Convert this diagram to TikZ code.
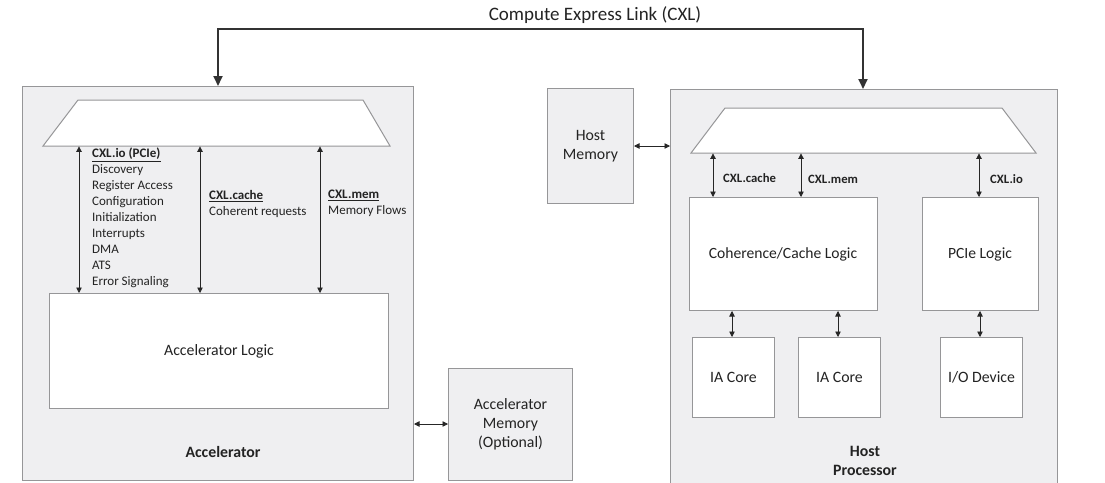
\documentclass[tikz,border=0pt]{standalone}
\usepackage{fontspec}
\setmainfont{Carlito}
\usetikzlibrary{arrows.meta,calc}

\definecolor{panel}{RGB}{239,239,241}
\definecolor{edge}{RGB}{150,150,152}
\definecolor{ink}{RGB}{35,35,35}

\tikzset{
  panelbox/.style={draw=edge, fill=panel, line width=1pt, inner sep=0pt},
  whitebox/.style={draw=edge, fill=white, line width=1pt, inner sep=0pt, text=ink,
                   font=\fontsize{15.8}{19}\selectfont, align=center},
  funnel/.style={draw=edge, fill=white, line width=1pt, line join=miter},
  frame/.style={draw=none, inner sep=0pt},
  dblarrow/.style={{Triangle[length=5.5pt,width=5.5pt]}-{Triangle[length=5.5pt,width=5.5pt]},
                   line width=0.8pt, draw=black!85},
  linkarrow/.style={{Triangle[length=10pt,width=9pt]}-{Triangle[length=10pt,width=9pt]},
                    line width=1.8pt, draw=black!80},
  small/.style={text=ink, font=\fontsize{13}{16}\selectfont, inner sep=0pt, align=left},
  smallbold/.style={text=ink, font=\fontsize{12.7}{16}\selectfont\bfseries, inner sep=0pt},
  caption/.style={text=ink, font=\fontsize{15.8}{19}\selectfont\bfseries, inner sep=0pt, align=center},
  boxlabel/.style={text=ink, font=\fontsize{15.6}{19}\selectfont, inner sep=0pt}
}

\begin{document}
\begin{tikzpicture}[x=1pt,y=-1pt]
\useasboundingbox (0,0) rectangle (1105,482);

% ---------- Accelerator side ----------
\node[panelbox, minimum width=391, minimum height=394, anchor=north west] (accel) at (22,86) {};
% protocol multiplexer (trapezoid) and its frame
\node[frame, minimum width=347, minimum height=46, anchor=north west] (trapA) at (43,100) {};
\draw[funnel] (78,100) -- (363,100) -- (390,146) -- (43,146) -- cycle;
\node[whitebox, minimum width=339, minimum height=115, anchor=north west] (alogic) at (49,293) {Accelerator Logic};
\node[caption] (acaption) at (223,452) {Accelerator};

\draw[dblarrow] (trapA.south -| 79,0) -- (alogic.north -| 79,0);
\draw[dblarrow] (trapA.south -| 200,0) -- (alogic.north -| 200,0);
\draw[dblarrow] (trapA.south -| 320,0) -- (alogic.north -| 320,0);

\node[small, anchor=north west] (iolist) at (92,148)
  {\textbf{\underline{CXL.io (PCIe)}}\\ Discovery\\ Register Access\\ Configuration\\ Initialization\\
   Interrupts\\ DMA\\ ATS\\ Error Signaling};
\node[small, anchor=north west] (cachelist) at (209,190)
  {\textbf{\underline{CXL.cache}}\\ Coherent requests};
\node[small, anchor=north west] (memlist) at (328,190)
  {\textbf{\underline{CXL.mem}}\\ Memory Flows};

% ---------- Accelerator memory ----------
\node[whitebox, fill=panel, minimum width=124, minimum height=112, anchor=north west] (amem) at (448,368)
  {Accelerator\\ Memory\\ (Optional)};
\draw[dblarrow] (accel.east |- 0,424) -- (amem.west |- 0,424);

% ---------- Host memory ----------
\node[whitebox, fill=panel, minimum width=86, minimum height=115, anchor=north west] (hmem) at (547,88)
  {Host\\ Memory};

% ---------- Host processor ----------
\node[panelbox, minimum width=387, minimum height=410, anchor=north west] (host) at (670,89) {};
\draw[dblarrow] (hmem.east |- 0,146) -- (host.west |- 0,146);

\node[frame, minimum width=345, minimum height=45, anchor=north west] (trapH) at (691,108) {};
\draw[funnel] (725,108) -- (1002,108) -- (1036,153) -- (691,153) -- cycle;

\node[whitebox, minimum width=188, minimum height=113, anchor=north west] (coh) at (689,197) {};
\node[boxlabel] (cohlabel) at (783,254) {Coherence/Cache Logic};
\node[whitebox, minimum width=116, minimum height=113, anchor=north west] (pcie) at (922,197) {};
\node[boxlabel] (pcielabel) at (980,254) {PCIe Logic};

\node[whitebox, minimum width=82, minimum height=80, anchor=north west] (core1) at (692,337) {IA Core};
\node[whitebox, minimum width=82, minimum height=80, anchor=north west] (core2) at (798,337) {IA Core};
\node[whitebox, minimum width=82, minimum height=80, anchor=north west] (iodev) at (940,337) {I/O Device};

\draw[dblarrow] (trapH.south -| 713,0) -- (coh.north -| 713,0);
\draw[dblarrow] (trapH.south -| 801,0) -- (coh.north -| 801,0);
\draw[dblarrow] (trapH.south -| 979,0) -- (pcie.north -| 979,0);
\node[smallbold, anchor=west] (lcache) at (723,178) {CXL.cache};
\node[smallbold, anchor=west] (lmem) at (808,179) {CXL.mem};
\node[smallbold, anchor=west] (lio) at (990,179) {CXL.io};

\draw[dblarrow] (coh.south -| 732,0) -- (core1.north -| 732,0);
\draw[dblarrow] (coh.south -| 838,0) -- (core2.north -| 838,0);
\draw[dblarrow] (pcie.south -| 980,0) -- (iodev.north -| 980,0);

\node[caption] (hcaption) at (865,461) {Host\\ Processor};

% ---------- CXL link ----------
\node[text=ink, font=\fontsize{19}{22}\selectfont] (cxl) at (595,15) {Compute Express Link (CXL)};
\coordinate (linkY) at (0,29);
\draw[linkarrow] (accel.north -| 218,0) -- (218,0 |- linkY) -- (863,0 |- linkY) -- (host.north -| 863,0);

\end{tikzpicture}
\end{document}
